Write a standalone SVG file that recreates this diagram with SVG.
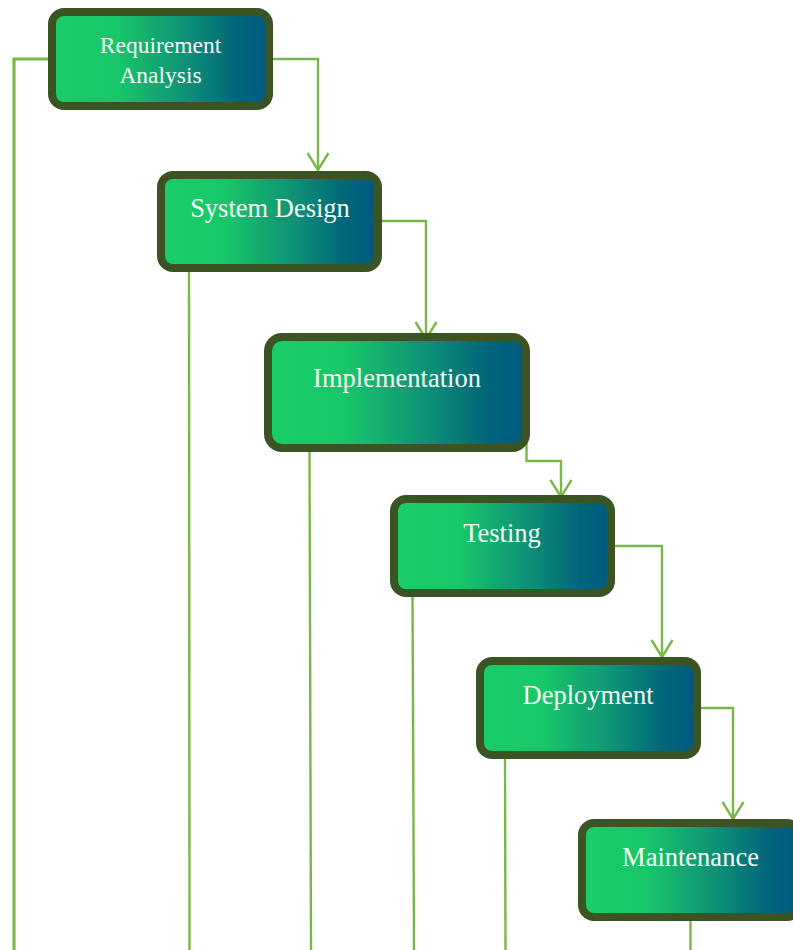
<svg xmlns="http://www.w3.org/2000/svg" width="793" height="950" viewBox="0 0 793 950">
  <style>
    .box { stroke: #3b5424; stroke-width: 8; fill: url(#phaseFill); }
    .label { font-family: "Liberation Serif", "Times New Roman", serif; fill: #f4fbf4; text-anchor: middle; font-size: 26.5px; }
    .small { font-size: 23.5px; }
    .link { fill: none; stroke: #7ab648; stroke-width: 2.4; }
    .wide { stroke-width: 3.2; }
  </style>
  <defs>
    <linearGradient id="phaseFill" x1="0" y1="0" x2="1" y2="0">
      <stop offset="0" stop-color="#1ace66"/>
      <stop offset="0.3" stop-color="#18c66a"/>
      <stop offset="0.6" stop-color="#0f9476"/>
      <stop offset="0.85" stop-color="#01667a"/>
      <stop offset="1" stop-color="#005a80"/>
    </linearGradient>
    <marker id="openArrow" viewBox="0 0 24 24" refX="22" refY="12" markerWidth="24" markerHeight="24" markerUnits="userSpaceOnUse" orient="auto">
      <path d="M5 1.5 L22 12 L5 22.5" fill="none" stroke="#7ab648" stroke-width="2.4"/>
    </marker>
  </defs>

  <!-- connectors -->
  <g id="connectors">
    <path class="link wide" d="M52 59 H14 V950"/>
    <path class="link" d="M270 59 H318 V170" marker-end="url(#openArrow)"/>
    <path class="link" d="M189 270 L189.5 950"/>
    <path class="link" d="M379 221 H426 V339" marker-end="url(#openArrow)"/>
    <path class="link" d="M309.5 448 L311 950"/>
    <path class="link" d="M526.5 423 V461 H561 V497" marker-end="url(#openArrow)"/>
    <path class="link" d="M412.5 593 L414 950"/>
    <path class="link" d="M612 546 H662 V657" marker-end="url(#openArrow)"/>
    <path class="link" d="M505 757 L505.5 950"/>
    <path class="link" d="M698 708 H733 V819" marker-end="url(#openArrow)"/>
    <path class="link" d="M690.5 917 V950"/>
  </g>

  <g id="requirement-analysis">
    <rect class="box" x="52" y="12" width="217" height="94" rx="12"/>
    <text class="label small" x="160.5" y="53">Requirement</text>
    <text class="label small" x="160.5" y="83">Analysis</text>
  </g>

  <g id="system-design">
    <rect class="box" x="161" y="175" width="217" height="93" rx="12"/>
    <text class="label" x="270" y="217">System Design</text>
  </g>

  <g id="implementation">
    <rect class="box" x="268" y="337" width="258" height="111" rx="14"/>
    <text class="label" x="397" y="387">Implementation</text>
  </g>

  <g id="testing">
    <rect class="box" x="394" y="499" width="217" height="94" rx="12"/>
    <text class="label" x="502" y="542">Testing</text>
  </g>

  <g id="deployment">
    <rect class="box" x="480" y="661" width="217" height="94" rx="12"/>
    <text class="label" x="588" y="704">Deployment</text>
  </g>

  <g id="maintenance">
    <rect class="box" x="582" y="823" width="217" height="94" rx="12"/>
    <text class="label" x="690.5" y="866">Maintenance</text>
  </g>
</svg>
